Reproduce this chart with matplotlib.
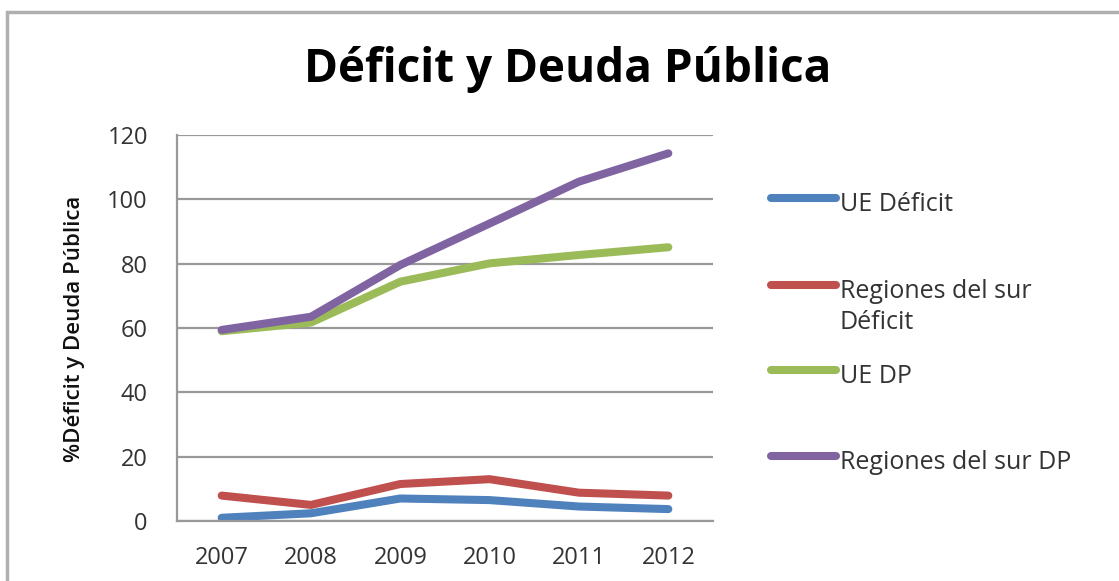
import matplotlib
matplotlib.use("Agg")
import matplotlib.pyplot as plt
from matplotlib.lines import Line2D
from matplotlib.patches import Rectangle

years = ["2007", "2008", "2009", "2010", "2011", "2012"]
ue_deficit = [1.0, 2.4, 7.0, 6.5, 4.5, 3.7]
sur_deficit = [7.9, 5.0, 11.5, 13.0, 8.8, 7.9]
ue_dp = [59.0, 61.7, 74.4, 80.1, 82.7, 85.1]
sur_dp = [59.4, 63.5, 79.6, 92.5, 105.5, 114.3]
series_labels = ["UE Déficit", "Regiones del sur\nDéficit", "UE DP", "Regiones del sur DP"]
series_colors = ["#4F81BD", "#C0504D", "#9BBB59", "#8064A2"]
yticks = [0, 20, 40, 60, 80, 100, 120]

plt.rcParams['font.family'] = ['Open Sans', 'DejaVu Sans']

W, H = 1119, 581
fig = plt.figure(figsize=(W / 100, H / 100), dpi=100)

# outer frame
fig.add_artist(Rectangle((7 / W, -0.05), 1.2, (H - 12) / H + 0.05, transform=fig.transFigure,
                         fill=False, edgecolor="#b0b0b0", linewidth=2.5))

ax = fig.add_axes([177 / W, (H - 521) / H, (713 - 177) / W, (521 - 135) / H])
x = list(range(len(years)))
all_series = [ue_deficit, sur_deficit, ue_dp, sur_dp]
for vals, col in zip(all_series, series_colors):
    ax.plot(x, vals, color=col, linewidth=5.8, solid_capstyle="round", solid_joinstyle="round")

ax.set_xlim(-0.5, len(years) - 0.5)
ax.set_ylim(0, 120)
ax.set_yticks(yticks)
ax.set_xticks(x)
ax.set_xticklabels(years)
ax.tick_params(axis="both", length=0, labelsize=17, labelcolor="#333333")
ax.tick_params(axis="y", pad=21)
ax.tick_params(axis="x", pad=18)
ax.grid(axis="y", color="#999999", linewidth=1.6)
ax.set_axisbelow(True)
for s in ["top", "right"]:
    ax.spines[s].set_visible(False)
for s in ["left", "bottom"]:
    ax.spines[s].set_color("#999999")
    ax.spines[s].set_linewidth(1.6)

fig.text(75 / W, 1 - 329 / H, "%Déficit y Deuda Pública", ha="center", va="center",
         rotation=90, fontsize=16, fontweight="semibold", color="#111111")

fig.text(568 / W, 1 - 70 / H, "Déficit y Deuda Pública", ha="center", va="center",
         fontsize=33, fontweight="bold", color="black")

# legend drawn manually
leg_y = [198, 285, 370, 456]
for lab, col, yy in zip(series_labels, series_colors, leg_y):
    fig.add_artist(Line2D([771 / W, 836 / W], [1 - yy / H, 1 - yy / H], transform=fig.transFigure,
                          color=col, linewidth=5.8, solid_capstyle="round"))
    fig.text(840 / W, 1 - (yy - 6) / H, lab, ha="left", va="top", fontsize=18,
             color="#333333", linespacing=1.3)

fig.savefig("out.png", dpi=100)
